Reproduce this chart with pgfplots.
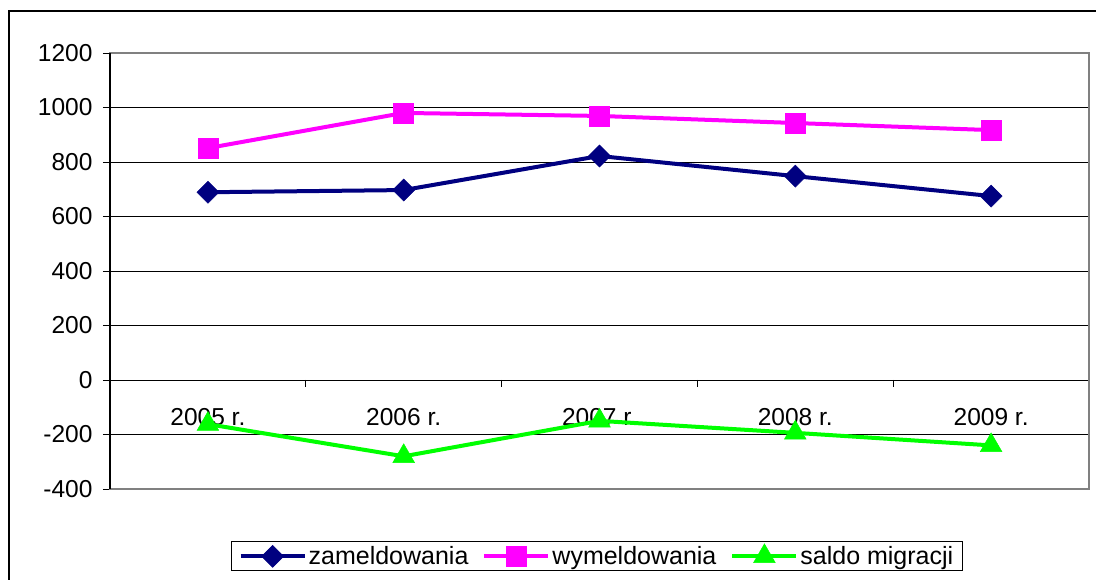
\documentclass[border=0pt]{standalone}
\usepackage{fontspec}
\setmainfont{Liberation Sans}
\usepackage{pgfplots}
\pgfplotsset{compat=1.18}
\definecolor{navyc}{RGB}{0,0,128}
\definecolor{magc}{RGB}{255,0,255}
\definecolor{grnc}{RGB}{0,255,0}
\begin{document}
\begin{tikzpicture}
\useasboundingbox (0pt,0pt) rectangle (1096pt,580pt);
\draw[line width=2pt] (9pt,0pt) -- (9pt,569pt) -- (1096pt,569pt);
\begin{axis}[
  at={(110pt,91pt)}, anchor=south west,
  width=979pt, height=436pt, scale only axis,
  xmin=-0.5, xmax=4.5, ymin=-400, ymax=1200,
  ytick={-400,-200,...,1200}, xtick=\empty,
  ymajorgrids, grid style={black, line width=0.9pt},
  axis line style={gray, line width=1.2pt},
  ytick pos=left, tick align=outside, major tick length=7pt,
  tick style={black, line width=0.9pt},
  font=\fontsize{24.5}{28}\selectfont,
  /pgf/number format/assume math mode=true,
  /pgf/number format/1000 sep={},
  yticklabel style={xshift=-7pt},
  clip=false,
  legend columns=3,
  legend style={at={(0.4974,-0.1537)}, anchor=center, draw=black, line width=1pt,
    font=\fontsize{25}{28}\selectfont, inner xsep=7pt, inner ysep=2pt,
    /tikz/every even column/.append style={column sep=12pt}},
  legend image code/.code={\draw[mark repeat=2,mark phase=2] plot coordinates {(0pt,0pt) (32pt,0pt) (64pt,0pt)};},
]
\draw[black, line width=1.5pt] (rel axis cs:0,0) -- (rel axis cs:0,1);
\draw[black, line width=0.9pt] (axis cs:-0.5,0) -- ([yshift=-7pt]axis cs:-0.5,0);
\draw[black, line width=0.9pt] (axis cs:0.5,0) -- ([yshift=-7pt]axis cs:0.5,0);
\draw[black, line width=0.9pt] (axis cs:1.5,0) -- ([yshift=-7pt]axis cs:1.5,0);
\draw[black, line width=0.9pt] (axis cs:2.5,0) -- ([yshift=-7pt]axis cs:2.5,0);
\draw[black, line width=0.9pt] (axis cs:3.5,0) -- ([yshift=-7pt]axis cs:3.5,0);
\node[anchor=base, yshift=-46pt] at (axis cs:0,0) {2005 r.};
\node[anchor=base, yshift=-46pt] at (axis cs:1,0) {2006 r.};
\node[anchor=base, yshift=-46pt] at (axis cs:2,0) {2007 r.};
\node[anchor=base, yshift=-46pt] at (axis cs:3,0) {2008 r.};
\node[anchor=base, yshift=-46pt] at (axis cs:4,0) {2009 r.};
\addplot[navyc, line width=4pt, mark=square*, mark size=7.8pt, mark options={rotate=45, solid, line width=0.5pt}] coordinates {(0,689) (1,697) (2,822) (3,748) (4,675)};
\addlegendentry{zameldowania}
\addplot[magc, line width=4pt, mark=square*, mark size=10pt, mark options={solid, line width=0.5pt}] coordinates {(0,851) (1,980) (2,969) (3,943) (4,917)};
\addlegendentry{wymeldowania}
\addplot[grnc, line width=4pt, mark=triangle*, mark size=12.5pt, mark options={solid, line width=0.5pt}] coordinates {(0,-162) (1,-280) (2,-150) (3,-194) (4,-240)};
\addlegendentry{saldo migracji}
\end{axis}
\end{tikzpicture}
\end{document}
